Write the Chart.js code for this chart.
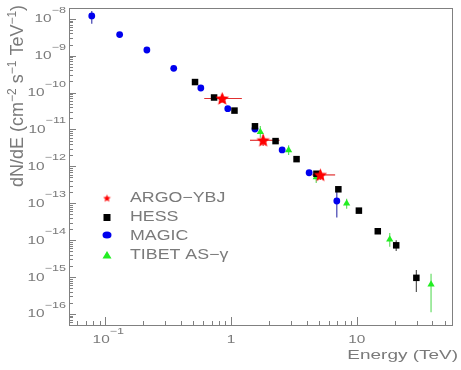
<!DOCTYPE html>
<html>
<head>
<meta charset="utf-8">
<script src="https://cdn.jsdelivr.net/npm/chart.js@4/dist/chart.umd.min.js"></script>
<style>
  html, body { margin: 0; padding: 0; background: #fff; }
  canvas { display: block; }
</style>
</head>
<body>
<canvas id="chart" width="461" height="370"></canvas>
<script>
// energies in TeV, fluxes in cm^-2 s^-1 TeV^-1
const argoE = [0.851, 1.80, 5.14];
const argoF = [6.92e-11, 5.09e-12, 5.86e-13];
const argoELo = [0.612, 1.415, 4.43];
const argoEHi = [1.219, 2.43, 6.73];
const argoFLo = [5.41e-11, 3.56e-12, 4.31e-13];
const argoFHi = [8.85e-11, 7.26e-12, 7.96e-13];

const hessE = [0.517, 0.733, 1.065, 1.55, 2.26, 3.32, 4.78, 7.14, 10.4, 14.7, 20.6, 29.8];
const hessF = [1.93e-10, 7.36e-11, 3.25e-11, 1.22e-11, 4.84e-12, 1.57e-12, 6.3e-13, 2.39e-13, 6.3e-14, 1.74e-14, 7.23e-15, 9.5e-16];
const hessFLo = [null, null, null, null, null, null, null, null, null, null, 5.1e-15, 3.94e-16];
const hessFHi = [null, null, null, null, null, null, null, null, null, null, 1.0e-14, 1.56e-15];

const magicE = [0.078, 0.130, 0.214, 0.350, 0.575, 0.942, 1.55, 2.55, 4.18, 6.94];
const magicF = [1.20e-8, 3.74e-9, 1.43e-9, 4.56e-10, 1.33e-10, 3.67e-11, 1.03e-11, 2.79e-12, 6.71e-13, 1.15e-13];
const magicFLo = [7.36e-9, null, null, null, null, null, null, null, 5.6e-13, 4.1e-14];
const magicFHi = [1.63e-8, null, null, null, null, null, null, null, 8.0e-13, 2.03e-13];

const tibetE = [1.71, 2.87, 4.76, 8.31, 18.3, 39.0];
const tibetF = [8.58e-12, 2.75e-12, 5.09e-13, 9.88e-14, 1.04e-14, 6.3e-16];
const tibetFLo = [5.93e-12, 2.03e-12, 3.52e-13, 7.13e-14, 6.62e-15, 1.11e-16];
const tibetFHi = [1.24e-11, 3.74e-12, 6.9e-13, 1.32e-13, 1.57e-14, 1.22e-15];

const seriesNames = ['ARGO\u2212YBJ', 'HESS', 'MAGIC', 'TIBET AS\u2212\u03b3'];
const xMajor = [-1, 0, 1];          // log10 of labelled energies
const yMajor = [-8, -9, -10, -11, -12, -13, -14, -15, -16];

const GREY = '#7a7a7a';
const FONT = '"Liberation Sans", Arial, sans-serif';

function makeStar(size) {
  const c = document.createElement('canvas');
  c.width = size; c.height = size;
  const g = c.getContext('2d');
  const R = size / 2 - 0.5, r = R * 0.46, cx = size / 2, cy = size / 2 + 0.5;
  g.beginPath();
  for (let i = 0; i < 10; i++) {
    const a = -Math.PI / 2 + i * Math.PI / 5;
    const rr = i % 2 ? r : R;
    g.lineTo(cx + rr * Math.cos(a), cy + rr * Math.sin(a));
  }
  g.closePath();
  g.fillStyle = '#ff0000';
  g.fill();
  return c;
}
const starBig = makeStar(15);
const starSmall = makeStar(9);

function pts(xs, ys) {
  return xs.map((x, i) => ({ x: x, y: ys[i] }));
}

function txt(ctx, s, x, y, size, sx, align) {
  ctx.save();
  ctx.font = size + 'px ' + FONT;
  const w = ctx.measureText(s).width * sx;
  const x0 = align === 'right' ? x - w : align === 'center' ? x - w / 2 : x;
  ctx.translate(x0, y);
  ctx.scale(sx, 1);
  ctx.textAlign = 'left';
  ctx.textBaseline = 'alphabetic';
  ctx.fillText(s, 0, 0);
  ctx.restore();
  return w;
}

function powWidth(ctx, n, sx) {
  ctx.font = '11px ' + FONT;
  const a = ctx.measureText('10').width * sx;
  ctx.font = '9px ' + FONT;
  const b = ctx.measureText('\u2212' + Math.abs(n)).width * sx;
  return a + b;
}

function powLabel(ctx, n, x, y, expY, sx) {
  const w = txt(ctx, '10', x, y, 11, sx, 'left');
  txt(ctx, '\u2212' + Math.abs(n), x + w, expY, 9, sx, 'left');
}

const errorBars = {
  id: 'errorBars',
  beforeDatasetsDraw(chart) {
    const ctx = chart.ctx, xs = chart.scales.x, ys = chart.scales.y;
    const vbar = (E, lo, hi, col) => {
      E.forEach((e, i) => {
        if (lo[i] == null) return;
        const px = xs.getPixelForValue(e);
        ctx.strokeStyle = col;
        ctx.beginPath();
        ctx.moveTo(px, ys.getPixelForValue(lo[i]));
        ctx.lineTo(px, ys.getPixelForValue(hi[i]));
        ctx.stroke();
      });
    };
    ctx.save();
    ctx.lineWidth = 1.2;
    vbar(hessE, hessFLo, hessFHi, '#555555');
    vbar(magicE, magicFLo, magicFHi, '#4040b0');
    vbar(tibetE, tibetFLo, tibetFHi, '#66dd66');
    vbar(argoE, argoFLo, argoFHi, '#e03030');
    ctx.strokeStyle = '#e03030';
    argoE.forEach((e, i) => {
      const py = ys.getPixelForValue(argoF[i]);
      ctx.beginPath();
      ctx.moveTo(xs.getPixelForValue(argoELo[i]), py);
      ctx.lineTo(xs.getPixelForValue(argoEHi[i]), py);
      ctx.stroke();
    });
    ctx.restore();
  }
};

const rootFrame = {
  id: 'rootFrame',
  afterDraw(chart) {
    const ctx = chart.ctx, a = chart.chartArea;
    const xs = chart.scales.x, ys = chart.scales.y;
    ctx.save();
    ctx.strokeStyle = '#808080';
    ctx.lineWidth = 1;
    ctx.strokeRect(a.left + 0.5, a.top + 0.5, a.right - a.left - 1, a.bottom - a.top);

    // ticks pointing inward
    ctx.beginPath();
    for (let p = -2; p <= 1; p++) {
      for (let m = 1; m <= 9; m++) {
        const v = m * Math.pow(10, p);
        if (v < xs.min || v > xs.max) continue;
        const px = Math.round(xs.getPixelForValue(v)) + 0.5;
        const len = m === 1 ? 8 : 4;
        ctx.moveTo(px, a.bottom);
        ctx.lineTo(px, a.bottom - len);
      }
    }
    for (let p = -17; p <= -8; p++) {
      for (let m = 1; m <= 9; m++) {
        const v = m * Math.pow(10, p);
        if (v < ys.min || v > ys.max) continue;
        const py = Math.round(ys.getPixelForValue(v)) + 0.5;
        const len = m === 1 ? 7 : 4;
        ctx.moveTo(a.left, py);
        ctx.lineTo(a.left + len, py);
      }
    }
    ctx.stroke();

    ctx.fillStyle = GREY;
    const sx = 1.4;
    // y tick labels
    yMajor.forEach(n => {
      const py = ys.getPixelForValue(Math.pow(10, n));
      const w = powWidth(ctx, n, sx);
      powLabel(ctx, n, 66 - w, py + 3.5, py - 6, sx);
    });
    // x tick labels
    xMajor.forEach(n => {
      const px = xs.getPixelForValue(Math.pow(10, n));
      if (n < 0) {
        const w = powWidth(ctx, n, sx);
        powLabel(ctx, n, px + 3 - w / 2, 343, 334, sx);
      } else {
        txt(ctx, String(Math.pow(10, n)), px, 343, 11, sx, 'center');
      }
    });
    // x title
    txt(ctx, 'Energy (TeV)', 458, 359, 12, 1.58, 'right');

    // y title, rotated
    ctx.save();
    ctx.translate(23, 187);
    ctx.rotate(-Math.PI / 2);
    let x = 0;
    [['dN/dE (cm', 0], ['\u22122', 1], [' s', 0], ['\u22121', 1], [' TeV', 0], ['\u22121', 1], [')', 0]]
      .forEach(([s, sup]) => {
        x += txt(ctx, s, x, sup ? -7 : 0, sup ? 12 : 18, 1, 'left');
      });
    ctx.restore();

    // legend
    const lx = 107, rows = [198, 217.5, 235, 255], base = [201.7, 221, 240, 259];
    ctx.drawImage(starSmall, lx - 4.5, rows[0] - 4.5);
    ctx.fillStyle = '#000';
    ctx.fillRect(lx - 3.5, rows[1] - 3.5, 7, 7);
    ctx.fillStyle = '#0000ee';
    ctx.beginPath();
    ctx.ellipse(lx, rows[2], 4.5, 3.5, 0, 0, Math.PI * 2);
    ctx.fill();
    ctx.fillStyle = '#22ee22';
    ctx.beginPath();
    ctx.moveTo(lx, rows[3] - 4);
    ctx.lineTo(lx + 4.5, rows[3] + 3.5);
    ctx.lineTo(lx - 4.5, rows[3] + 3.5);
    ctx.closePath();
    ctx.fill();
    ctx.fillStyle = GREY;
    seriesNames.forEach((s, i) => txt(ctx, s, 130, base[i], 14, 1.27, 'left'));
    ctx.restore();
  }
};

new Chart(document.getElementById('chart'), {
  type: 'scatter',
  data: {
    datasets: [
      { label: seriesNames[0], data: pts(argoE, argoF), pointStyle: starBig, pointRadius: 7 },
      { label: seriesNames[1], data: pts(hessE, hessF), pointStyle: 'rect', pointRadius: 4.6,
        backgroundColor: '#000', borderColor: '#000', borderWidth: 0 },
      { label: seriesNames[2], data: pts(magicE, magicF), pointStyle: 'circle', pointRadius: 3.4,
        backgroundColor: '#0000ee', borderColor: '#0000ee', borderWidth: 0 },
      { label: seriesNames[3], data: pts(tibetE, tibetF), pointStyle: 'triangle', pointRadius: 4.2,
        backgroundColor: '#22ee22', borderColor: '#22ee22', borderWidth: 0 }
    ]
  },
  options: {
    responsive: false,
    devicePixelRatio: 1,
    animation: false,
    layout: { padding: { left: 69, right: 1, top: 3, bottom: 45 } },
    scales: {
      x: { type: 'logarithmic', min: 0.0514, max: 58.3, display: false },
      y: { type: 'logarithmic', min: 5.09e-17, max: 1.965e-8, display: false }
    },
    plugins: { legend: { display: false }, tooltip: { enabled: false } }
  },
  plugins: [errorBars, rootFrame]
});
</script>
</body>
</html>
